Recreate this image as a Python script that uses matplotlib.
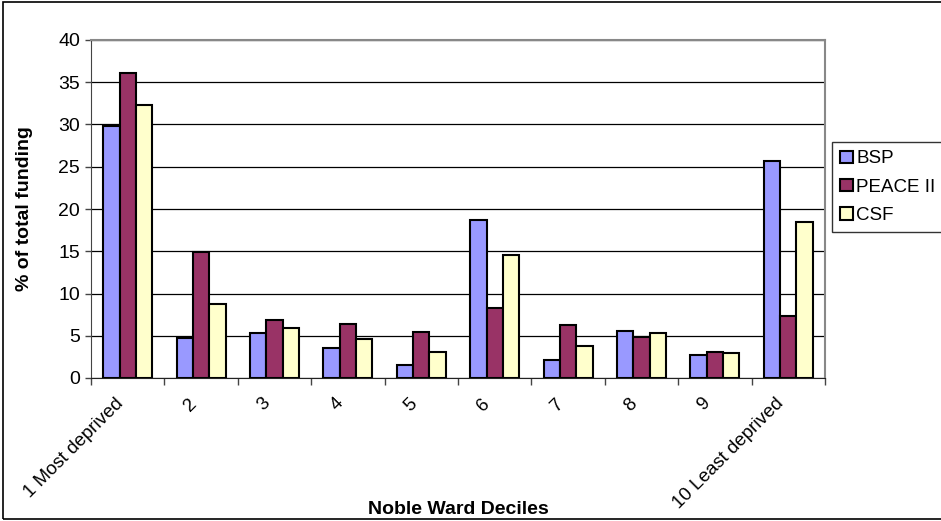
import matplotlib.pyplot as plt
import numpy as np
from matplotlib.patches import Rectangle

plt.rcParams['font.family'] = ['Liberation Sans', 'DejaVu Sans']

# 数据
deciles = ['1 Most deprived', '2', '3', '4', '5', '6', '7', '8', '9', '10 Least deprived']
bsp = [29.8, 4.7, 5.3, 3.5, 1.5, 18.7, 2.1, 5.6, 2.7, 25.7]
peace_ii = [36.1, 14.9, 6.9, 6.4, 5.5, 8.3, 6.3, 4.8, 3.1, 7.3]
csf = [32.3, 8.7, 5.9, 4.6, 3.1, 14.6, 3.8, 5.3, 2.9, 18.5]

series = [('BSP', bsp, '#9999ff'), ('PEACE II', peace_ii, '#993366'), ('CSF', csf, '#ffffcc')]

fig = plt.figure(figsize=(9.41, 5.21), dpi=100)
ax = fig.add_axes([91 / 941, 1 - 378 / 521, (825 - 91) / 941, (378 - 40) / 521])

x = np.arange(len(deciles))
width = 0.222
for i, (name, vals, color) in enumerate(series):
    ax.bar(x + (i - 1) * width, vals, width, color=color, edgecolor='black',
           linewidth=1.5, label=name, zorder=3)

ax.set_xlim(-0.5, len(deciles) - 0.5)
ax.set_ylim(0, 40)
ax.set_yticks(range(0, 41, 5))
ax.yaxis.grid(True, color='black', linewidth=0.9, zorder=0)

# x轴刻度放在组间边界
ax.set_xticks(np.arange(-0.5, len(deciles), 1.0))
ax.set_xticklabels([])
ax.tick_params(axis='x', length=5, width=1, color='#444444')
ax.tick_params(axis='y', length=4, width=1, color='#444444', labelsize=14, pad=4)

for xi, lab in zip(x, deciles):
    ax.text(xi - 0.18, -2.0, lab, rotation=45, ha='right', va='top',
            rotation_mode='anchor', fontsize=13.5)

for side in ['top', 'right']:
    ax.spines[side].set_color('#888888')
    ax.spines[side].set_linewidth(1.5)
ax.spines['left'].set_color('#444444')
ax.spines['bottom'].set_color('#222222')

ax.set_ylabel('% of total funding', fontsize=14, fontweight='bold', labelpad=18)
fig.text(458 / 941, 1 - 510 / 521, 'Noble Ward Deciles', ha='center', va='center',
         fontsize=14, fontweight='bold')

leg = fig.legend(loc='upper left', bbox_to_anchor=(832 / 941, 1 - 142 / 521),
                 fontsize=13.5, frameon=True, fancybox=False, borderpad=0.45,
                 handlelength=0.65, handleheight=0.65, handletextpad=0.2,
                 labelspacing=0.6, borderaxespad=0)
leg.get_frame().set_edgecolor('black')
leg.get_frame().set_linewidth(1.0)

# 外框
fig.patches.append(Rectangle((0.003, 0.003), 1.2, 0.994, transform=fig.transFigure,
                             fill=False, edgecolor='black', linewidth=1.2))

fig.savefig('out.png', dpi=100)
